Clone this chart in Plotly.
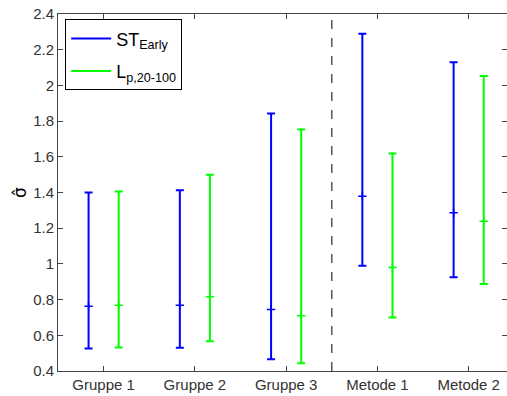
import plotly.graph_objects as go

# Groups / methods along the x axis
categories = ["Gruppe 1", "Gruppe 2", "Gruppe 3", "Metode 1", "Metode 2"]

# ST_Early: estimate with lower and upper bounds
st_center = [0.763, 0.769, 0.745, 1.379, 1.286]
st_lower = [0.526, 0.530, 0.466, 0.989, 0.925]
st_upper = [1.400, 1.412, 1.843, 2.290, 2.130]

# L_p,20-100: estimate with lower and upper bounds
lp_center = [0.769, 0.816, 0.709, 0.980, 1.239]
lp_lower = [0.532, 0.567, 0.444, 0.700, 0.888]
lp_upper = [1.405, 1.500, 1.753, 1.618, 2.052]

y_ticks = [0.4, 0.6, 0.8, 1.0, 1.2, 1.4, 1.6, 1.8, 2.0, 2.2, 2.4]
y_tick_text = ["0.4", "0.6", "0.8", "1", "1.2", "1.4", "1.6", "1.8", "2", "2.2", "2.4"]

offset = 0.165
positions = list(range(1, len(categories) + 1))

fig = go.Figure()


def add_series(center, lower, upper, color, name, shift, group):
    xs = [p + shift for p in positions]
    fig.add_trace(go.Scatter(
        x=xs, y=center, mode="markers", showlegend=False,
        marker=dict(symbol="cross-thin", size=6, line=dict(color=color, width=1.5)),
        error_y=dict(type="data", symmetric=False,
                     array=[u - c for u, c in zip(upper, center)],
                     arrayminus=[c - l for c, l in zip(center, lower)],
                     color=color, thickness=2, width=4),
    ))
    fig.add_trace(go.Scatter(
        x=[None], y=[None], mode="lines", name=name, legendgroup=group,
        line=dict(color=color, width=2),
    ))


add_series(st_center, st_lower, st_upper, "#0000FF", "ST<sub>Early</sub>", -offset, "st")
add_series(lp_center, lp_lower, lp_upper, "#00FF00", "L<sub>p,20-100</sub>", offset, "lp")

# separator between groups and methods
fig.add_shape(type="line", x0=3.5, x1=3.5, y0=0.4, y1=2.4, xref="x", yref="y",
              line=dict(color="#555555", width=1.5, dash="dash"))

axis_common = dict(
    showline=True, linecolor="#444444", linewidth=1, mirror="ticks",
    ticks="inside", ticklen=5, tickcolor="#444444", showgrid=False, zeroline=False,
    tickfont=dict(family="Liberation Sans, Arial, sans-serif", size=15, color="#333333"),
)

fig.update_xaxes(range=[0.5, 5.42], tickvals=positions, ticktext=categories, **axis_common)
fig.update_yaxes(range=[0.4, 2.4], tickvals=y_ticks, ticktext=y_tick_text,
                 title=dict(text="σ̂", font=dict(family="DejaVu Sans", size=17, color="#000000"),
                            standoff=2),
                 **axis_common)

fig.update_layout(
    width=507, height=396,
    margin=dict(l=58, r=0, t=14, b=25),
    plot_bgcolor="white", paper_bgcolor="white",
    legend=dict(x=0.016, y=0.985, xanchor="left", yanchor="top",
                bgcolor="white", bordercolor="#000000", borderwidth=1,
                font=dict(family="Liberation Sans, Arial, sans-serif", size=18, color="#000000"),
                tracegroupgap=6, itemwidth=40),
)

fig.write_html("out.html")
